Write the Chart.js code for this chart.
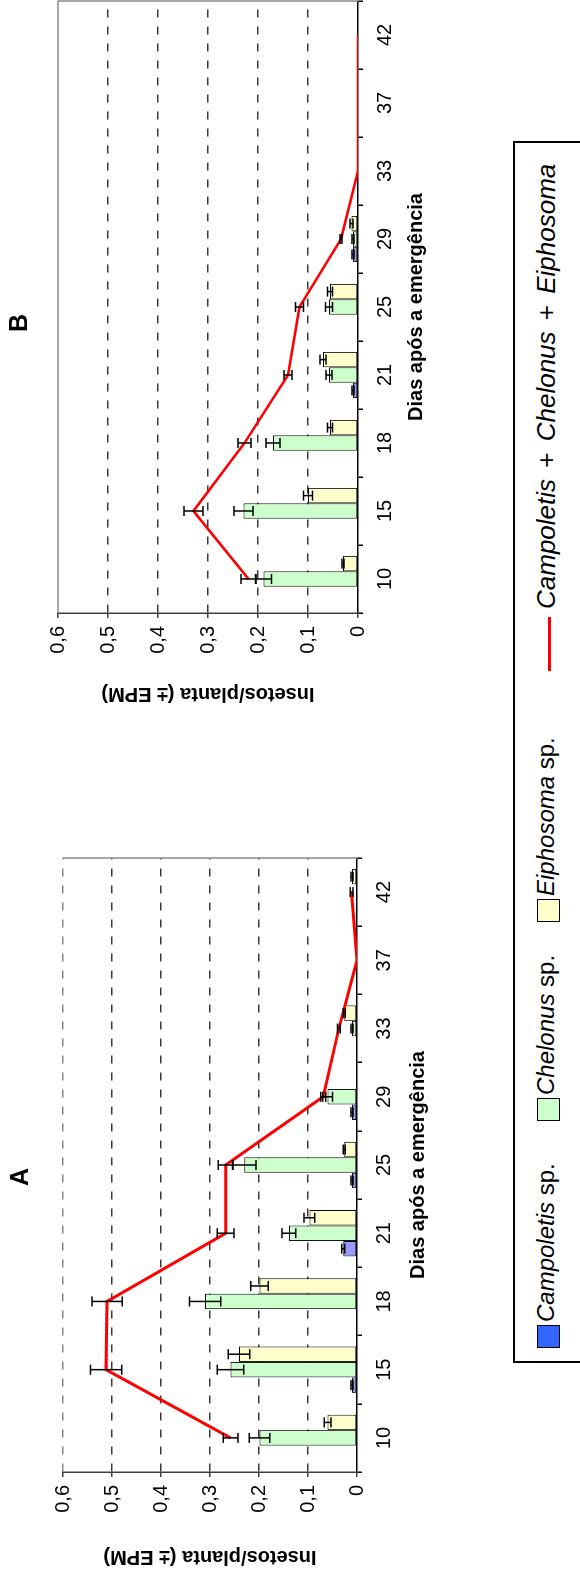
<!DOCTYPE html>
<html lang="pt">
<head>
<meta charset="utf-8">
<title>Insetos por planta</title>
<script src="https://cdn.jsdelivr.net/npm/chart.js@4.4.1/dist/chart.umd.min.js"></script>
<style>
  html, body { margin: 0; padding: 0; background: #fff; }
  body { width: 580px; height: 1579px; overflow: hidden; position: relative; }
  /* the figure is laid out landscape and turned a quarter turn counter-clockwise */
  #sheet {
    position: absolute; left: 0; top: 0; width: 1579px; height: 580px; overflow: hidden;
    transform-origin: 0 0; transform: translateY(1579px) rotate(-90deg);
    font-family: 'Liberation Sans', Arial, sans-serif; background: #fff;
  }
  #cA { position: absolute; left: 0; top: 0; }
  #cB { position: absolute; left: 863px; top: 0; }
  #legend {
    position: absolute; left: 216px; top: 513px; width: 1222px; height: 120px;
    border: 2px solid #000; box-sizing: border-box; background: #fff;
  }
  .sw { position: absolute; top: 22px; width: 23px; height: 23px; border: 1.5px solid #000; box-sizing: border-box; }
  .lt { position: absolute; top: 17px; font-size: 24px; line-height: 28px; color: #000; white-space: nowrap; }
  .lt.sum { font-size: 26px; word-spacing: 4px; }
  .rl { position: absolute; top: 33px; height: 3px; background: #ff0000; }
</style>
</head>
<body>
<div id="sheet">
  <canvas id="cA" width="804" height="450"></canvas>
  <canvas id="cB" width="786" height="450"></canvas>
  <div id="legend">
    <span class="sw" style="left:13px;background:#3366ff"></span>
    <span class="lt" style="left:39px"><i>Campoletis</i> sp.</span>
    <span class="sw" style="left:240px;background:#ccffcc"></span>
    <span class="lt" style="left:266px"><i>Chelonus</i> sp.</span>
    <span class="sw" style="left:439px;background:#ffffcc"></span>
    <span class="lt" style="left:465px"><i>Eiphosoma</i> sp.</span>
    <span class="rl" style="left:690px;width:54px"></span>
    <span class="lt sum" style="left:752px"><i>Campoletis</i> + <i>Chelonus</i> + <i>Eiphosoma</i></span>
  </div>
</div>
<script>
// Days after emergence (categories) and value-axis labels
const days = ['10', '15', '18', '21', '25', '29', '33', '37', '42'];
const valueTickLabels = ['0', '0,1', '0,2', '0,3', '0,4', '0,5', '0,6'];

// Panel A: insects per plant and standard error of the mean
const campoletisA    = [0, 0.010, 0, 0.028, 0.010, 0.010, 0, 0, 0];
const campoletisAErr = [0, 0.002, 0, 0.003, 0.002, 0.002, 0, 0, 0];
const chelonusA      = [0.199, 0.258, 0.310, 0.139, 0.230, 0.060, 0.010, 0, 0];
const chelonusAErr   = [0.021, 0.027, 0.032, 0.014, 0.024, 0.010, 0.002, 0, 0];
const eiphosomaA     = [0.060, 0.241, 0.199, 0.097, 0.026, 0, 0.026, 0, 0.010];
const eiphosomaAErr  = [0.007, 0.022, 0.018, 0.011, 0.002, 0, 0.002, 0, 0.002];
const totalA         = [0.258, 0.512, 0.510, 0.268, 0.268, 0.069, 0.037, 0, 0.011];
const totalAErr      = [0.015, 0.032, 0.031, 0.017, 0.015, 0.005, 0.003, 0, 0.003];

// Panel B
const campoletisB    = [0, 0, 0, 0.010, 0, 0.010, 0, 0, 0];
const campoletisBErr = [0, 0, 0, 0.002, 0, 0.002, 0, 0, 0];
const chelonusB      = [0.189, 0.229, 0.170, 0.058, 0.058, 0.010, 0, 0, 0];
const chelonusBErr   = [0.016, 0.019, 0.014, 0.006, 0.007, 0.002, 0, 0, 0];
const eiphosomaB     = [0.030, 0.100, 0.056, 0.070, 0.056, 0.013, 0, 0, 0];
const eiphosomaBErr  = [0.002, 0.009, 0.005, 0.006, 0.005, 0.003, 0, 0, 0];
const totalB         = [0.219, 0.329, 0.227, 0.140, 0.117, 0.034, 0, 0, 0];
const totalBErr      = [0.015, 0.019, 0.013, 0.008, 0.008, 0.002, 0, 0, 0];

Chart.defaults.font.family = "'Liberation Sans', Arial, sans-serif";
Chart.defaults.color = '#000';

// vertical error bars with caps, taken from each dataset's "errors" list
const errorBars = {
  id: 'errorBars',
  afterDatasetsDraw(chart) {
    const { ctx } = chart;
    const yScale = chart.scales.y;
    ctx.save();
    ctx.strokeStyle = '#000';
    ctx.lineWidth = 1.5;
    chart.data.datasets.forEach((ds, i) => {
      if (!ds.errors) return;
      chart.getDatasetMeta(i).data.forEach((el, j) => {
        const e = ds.errors[j];
        if (!e) return;
        const v = ds.data[j];
        const x = el.x;
        const lo = yScale.getPixelForValue(Math.max(0, v - e));
        const hi = yScale.getPixelForValue(v + e);
        ctx.beginPath();
        ctx.moveTo(x, lo); ctx.lineTo(x, hi);
        ctx.moveTo(x - 5, lo); ctx.lineTo(x + 5, lo);
        ctx.moveTo(x - 5, hi); ctx.lineTo(x + 5, hi);
        ctx.stroke();
      });
    });
    ctx.restore();
  }
};

// grey frame on the far side of the plot area and the panel letter
const panelFrame = {
  id: 'panelFrame',
  beforeDatasetsDraw(chart, args, opts) {
    const { ctx, chartArea: a } = chart;
    ctx.save();
    ctx.strokeStyle = '#8a8a8a';
    ctx.lineWidth = 1.5;
    ctx.beginPath();
    if (opts.topLine) { ctx.moveTo(a.left, a.top); ctx.lineTo(a.right, a.top); }
    ctx.moveTo(a.right, a.top); ctx.lineTo(a.right, a.bottom);
    ctx.stroke();
    ctx.restore();
  },
  afterDraw(chart, args, opts) {
    const { ctx, chartArea: a } = chart;
    ctx.save();
    ctx.font = "bold 25px 'Liberation Sans', Arial, sans-serif";
    ctx.fillStyle = '#000';
    ctx.textAlign = 'center';
    ctx.textBaseline = 'middle';
    ctx.fillText(opts.letter, (a.left + a.right) / 2 + opts.shift, opts.letterY);
    ctx.restore();
  }
};

function buildPanel(canvasId, s, g) {
  return new Chart(document.getElementById(canvasId), {
    type: 'bar',
    data: {
      labels: days,
      datasets: [
        { label: 'Campoletis sp.', data: s.camp, errors: s.campErr, backgroundColor: '#9999ff',
          borderColor: '#000', borderWidth: 1, borderSkipped: false, order: 1 },
        { label: 'Chelonus sp.', data: s.chel, errors: s.chelErr, backgroundColor: '#ccffcc',
          borderColor: '#000', borderWidth: 1, borderSkipped: false, order: 1 },
        { label: 'Eiphosoma sp.', data: s.eiph, errors: s.eiphErr, backgroundColor: '#ffffcc',
          borderColor: '#000', borderWidth: 1, borderSkipped: false, order: 1 },
        { type: 'line', label: 'Campoletis + Chelonus + Eiphosoma', data: s.total, errors: s.totalErr,
          borderColor: '#ff0000', borderWidth: g.lineW, pointRadius: 0, fill: false, tension: 0, order: 0 }
      ]
    },
    options: {
      responsive: false,
      animation: false,
      events: [],
      categoryPercentage: 0.68,
      barPercentage: 1.0,
      layout: { padding: { top: g.top, right: g.right, left: 0, bottom: 0 } },
      plugins: {
        legend: { display: false },
        tooltip: { enabled: false },
        panelFrame: { letter: g.letter, shift: g.shift, letterY: g.letterY, topLine: g.topLine }
      },
      scales: {
        x: {
          offset: true,
          grid: { offset: true, drawOnChartArea: false, drawTicks: true, tickLength: 5,
                  color: '#000', lineWidth: 1.5 },
          border: { display: true, color: '#000', width: 1.5 },
          ticks: { color: '#000', font: { size: 20 }, padding: 10, maxRotation: 0, autoSkip: false },
          title: { display: true, text: 'Dias após a emergência', color: '#000',
                   font: { size: 20, weight: 'bold' }, padding: { top: 0, bottom: g.xTitlePad } },
          afterFit: sc => { sc.height = g.xAxisH; }
        },
        y: {
          min: 0, max: 0.6,
          ticks: { stepSize: 0.1, color: '#000', font: { size: 20 }, padding: 8,
                   callback: (v, i) => valueTickLabels[i] },
          grid: {
            color: c => c.index === 0 ? 'rgba(0,0,0,0)' : (c.index === 6 ? g.topGrid : '#3a3a3a'),
            lineWidth: 1.5, tickLength: 5, tickColor: '#404040', tickWidth: 1.5, tickBorderDash: []
          },
          border: { display: true, color: '#404040', width: 1.5, dash: [8, 9] },
          title: { display: true, text: 'Insetos/planta (± EPM)', color: '#000',
                   font: { size: 20, weight: 'bold' }, padding: { top: 10, bottom: 0 } },
          afterFit: sc => { sc.width = g.yAxisW; }
        }
      }
    },
    plugins: [errorBars, panelFrame]
  });
}

buildPanel('cA',
  { camp: campoletisA, campErr: campoletisAErr, chel: chelonusA, chelErr: chelonusAErr,
    eiph: eiphosomaA, eiphErr: eiphosomaAErr, total: totalA, totalErr: totalAErr },
  { top: 63, right: 83, yAxisW: 107, xAxisH: 93, xTitlePad: 20, lineW: 3,
    letter: 'A', shift: -12, letterY: 21, topLine: false, topGrid: '#8a8a8a' });

buildPanel('cB',
  { camp: campoletisB, campErr: campoletisBErr, chel: chelonusB, chelErr: chelonusBErr,
    eiph: eiphosomaB, eiphErr: eiphosomaBErr, total: totalB, totalErr: totalBErr },
  { top: 58, right: 71, yAxisW: 103, xAxisH: 92, xTitlePad: 22, lineW: 2.6,
    letter: 'B', shift: -16, letterY: 20, topLine: true, topGrid: 'rgba(0,0,0,0)' });
</script>
</body>
</html>
